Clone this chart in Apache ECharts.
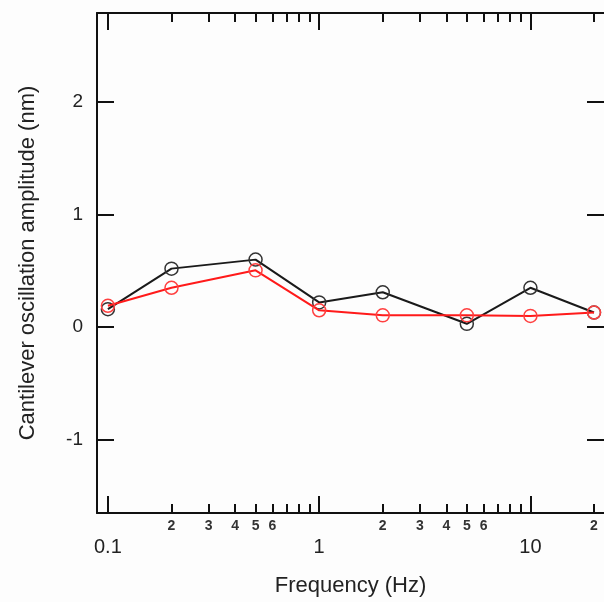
<!DOCTYPE html>
<html><head><meta charset="utf-8">
<script src="https://cdn.jsdelivr.net/npm/echarts@6/dist/echarts.min.js"></script>
<style>html,body{margin:0;padding:0;background:#fdfdfd;overflow:hidden}#c{width:604px;height:602px}</style>
</head><body><div id="c"></div>
<script>
var frequency = [0.1, 0.2, 0.5, 1, 2, 5, 10, 20];
var amplitudeBlack = [0.16, 0.52, 0.60, 0.22, 0.31, 0.03, 0.35, 0.13];
var amplitudeRed = [0.19, 0.35, 0.505, 0.15, 0.105, 0.105, 0.10, 0.13];
var majorTicks = [0.1, 1, 10];
var minorTicks = [0.2,0.3,0.4,0.5,0.6,0.7,0.8,0.9,2,3,4,5,6,7,8,9,20];
var minorLabels = [0.2,0.3,0.4,0.5,0.6,2,3,4,5,6,20];
var yTicks = [-1, 0, 1, 2];
var X_MIN = 0.0888, X_MAX = 22.3, Y_MIN = -1.65, Y_MAX = 2.79;

var FONT = 'Liberation Sans, Arial, sans-serif';
var INK = '#111';
function pair(a, b){ return a.map(function(v,i){ return [v, b[i]]; }); }
function fmtMajor(v){ return v < 1 ? '0.1' : String(Math.round(v)); }
function fmtMinor(v){ var p = Math.pow(10, Math.floor(Math.log10(v) + 1e-9)); return String(Math.round(v / p)); }

function xAx(pos, ticks, len, showLine, label){
  return {
    type: 'log', logBase: 10, position: pos, min: X_MIN, max: X_MAX,
    axisLine: {show: showLine, onZero: false, lineStyle: {color: INK, width: 2}},
    axisTick: {show: true, inside: true, length: len, customValues: ticks, lineStyle: {color: INK, width: 2}},
    axisLabel: label || {show: false},
    splitLine: {show: false}, minorTick: {show: false}
  };
}

var chart = echarts.init(document.getElementById('c'), null, {renderer: 'canvas', width: 604, height: 602});
var xa0 = xAx('bottom', majorTicks, 17, true, {show: true, customValues: majorTicks, formatter: fmtMajor, fontSize: 20, margin: 24, color: '#222', fontFamily: FONT});
xa0.name = 'Frequency (Hz)';
xa0.nameLocation = 'middle';
xa0.nameGap = 62;
xa0.nameTextStyle = {fontSize: 22, color: '#222', fontFamily: FONT};
var xa1 = xAx('bottom', minorTicks, 9, false, {show: true, customValues: minorLabels, formatter: fmtMinor, fontSize: 14, fontWeight: 'bold', margin: 6, color: '#333', fontFamily: FONT});
var xa2 = xAx('top', majorTicks, 17, true, null);
var xa3 = xAx('top', minorTicks, 9, false, null);

chart.setOption({
  backgroundColor: '#fdfdfd',
  animation: false,
  grid: {left: 97, top: 13, width: 511, height: 509, containLabel: false},
  xAxis: [xa0, xa1, xa2, xa3],
  yAxis: [
    {type: 'value', position: 'left', min: Y_MIN, max: Y_MAX,
     name: 'Cantilever oscillation amplitude (nm)', nameLocation: 'middle', nameGap: 58,
     nameTextStyle: {fontSize: 22, color: '#222', fontFamily: FONT},
     axisLine: {show: true, onZero: false, lineStyle: {color: INK, width: 2}},
     axisTick: {show: true, inside: true, length: 17, customValues: yTicks, lineStyle: {color: INK, width: 2}},
     axisLabel: {show: true, customValues: yTicks, fontSize: 19, margin: 14, color: '#222', fontFamily: FONT},
     splitLine: {show: false}},
    {type: 'value', position: 'right', min: Y_MIN, max: Y_MAX,
     axisLine: {show: false},
     axisTick: {show: true, inside: true, length: 17, customValues: yTicks, lineStyle: {color: INK, width: 2}},
     axisLabel: {show: false}, splitLine: {show: false}}
  ],
  series: [
    {type: 'line', name: 'black', data: pair(frequency, amplitudeBlack), xAxisIndex: 0, yAxisIndex: 0,
     symbol: 'circle', symbolSize: 13, lineStyle: {color: '#1a1a1a', width: 2},
     itemStyle: {color: 'rgba(0,0,0,0)', borderColor: '#333', borderWidth: 1.5}, z: 2},
    {type: 'line', name: 'red', data: pair(frequency, amplitudeRed), xAxisIndex: 0, yAxisIndex: 0,
     symbol: 'circle', symbolSize: 13, lineStyle: {color: '#ff1a1a', width: 2},
     itemStyle: {color: 'rgba(0,0,0,0)', borderColor: '#ff4040', borderWidth: 1.5}, z: 3}
  ]
});
</script></body></html>
